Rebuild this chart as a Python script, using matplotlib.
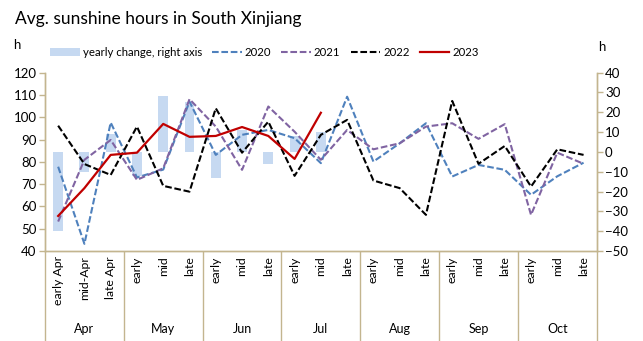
import matplotlib.pyplot as plt
import numpy as np

# periods (ten-day) and month groups
sub_labels = ["early Apr", "mid-Apr", "late Apr"] + ["early", "mid", "late"] * 6
months = ["Apr", "May", "Jun", "Jul", "Aug", "Sep", "Oct"]

# sunshine hours, left axis
y2020 = [77.8, 43.2, 97.6, 73, 76.5, 107, 83.1, 92.1, 94.3, 90.6, 79.4,
         109.2, 80.1, 88.3, 97.3, 73.4, 78.6, 76.4, 65.2, 73.5, 79.6]
y2021 = [53.2, 80.9, 89.8, 71.9, 77.1, 108.1, 95.8, 76.4, 104.8, 93.5, 80.9,
         94.3, 85.6, 88.3, 95.8, 97.3, 90.3, 96.9, 56.2, 84.1, 79.1]
y2022 = [96.2, 79, 74.1, 95.8, 69.2, 66.6, 104, 84.1, 98, 73.7, 92.1,
         98.8, 71.6, 68.2, 56.2, 107.3, 79.1, 87.1, 68.9, 85.6, 83.1]
y2023 = [55.7, 68.2, 83.1, 84.1, 97, 91.2, 91.6, 95.6, 91.6, 81.3, 102]

# yearly change, right axis
change = [-40, -10, 9, -12, 28, 25, -13, 11, -6, 8, 10]

tan = "#C3B58F"
plt.rcParams["font.family"] = ["Lato", "DejaVu Sans"]

fig = plt.figure(figsize=(6.43, 3.41), dpi=100)
ax = fig.add_axes([0.070, 0.264, 0.858, 0.523])
ax2 = ax.twinx()
ax.set_zorder(ax2.get_zorder() + 1)
ax.patch.set_visible(False)

x = np.arange(len(sub_labels))
bars = ax2.bar(np.arange(len(change)), change, width=0.38, color="#C6D9F1",
               label="yearly change, right axis")

dash = (3.2, 1.3)
l1, = ax.plot(x, y2020, color="#4F81BD", lw=1.5, dashes=dash, label="2020")
l2, = ax.plot(x, y2021, color="#8064A2", lw=1.5, dashes=dash, label="2021")
l3, = ax.plot(x, y2022, color="black", lw=1.5, dashes=dash, label="2022")
l4, = ax.plot(np.arange(len(y2023)), y2023, color="#C00000", lw=1.6, label="2023")

ax.set_xlim(-0.5, len(sub_labels) - 0.5)
ax.set_ylim(40, 120)
ax.set_yticks(np.arange(40, 121, 10))
ax2.set_ylim(-50, 40)
ax2.set_yticks(np.arange(-50, 41, 10))

for a in (ax, ax2):
    a.spines["top"].set_visible(False)
    for s in ("left", "right", "bottom"):
        a.spines[s].set_color(tan)
        a.spines[s].set_linewidth(1.0)
    a.tick_params(axis="y", colors=tan, labelcolor="black", labelsize=9.5,
                  length=4, width=1.0)
ax.tick_params(axis="y", pad=2)
ax2.tick_params(axis="y", pad=2)

# month separators drawn as long ticks
ax.set_xticks(np.arange(-0.5, len(sub_labels), 3))
ax.set_xticklabels([])
ax.tick_params(axis="x", colors=tan, length=65, width=1.0, direction="out")

for i, lab in enumerate(sub_labels):
    ax.text(i, -0.03, lab, transform=ax.get_xaxis_transform(), rotation=90,
            ha="center", va="top", fontsize=8.8)
for k, m in enumerate(months):
    ax.text(3 * k + 1, -0.44, m, transform=ax.get_xaxis_transform(),
            ha="center", va="center", fontsize=9)

fig.text(0.023, 0.945, "Avg. sunshine hours in South Xinjiang", fontsize=12.5,
         ha="left", va="center")
fig.text(0.020, 0.868, "h", fontsize=9.5, ha="left", va="center")
fig.text(0.930, 0.862, "h", fontsize=9.5, ha="left", va="center")

fig.legend([bars, l1, l2, l3, l4],
           ["yearly change, right axis", "2020", "2021", "2022", "2023"],
           loc="center left", bbox_to_anchor=(0.078, 0.845), ncol=5,
           frameon=False, fontsize=8.2, handlelength=2.6, handletextpad=0.25,
           columnspacing=0.9, borderaxespad=0, borderpad=0)

fig.savefig("out.png", dpi=100)
